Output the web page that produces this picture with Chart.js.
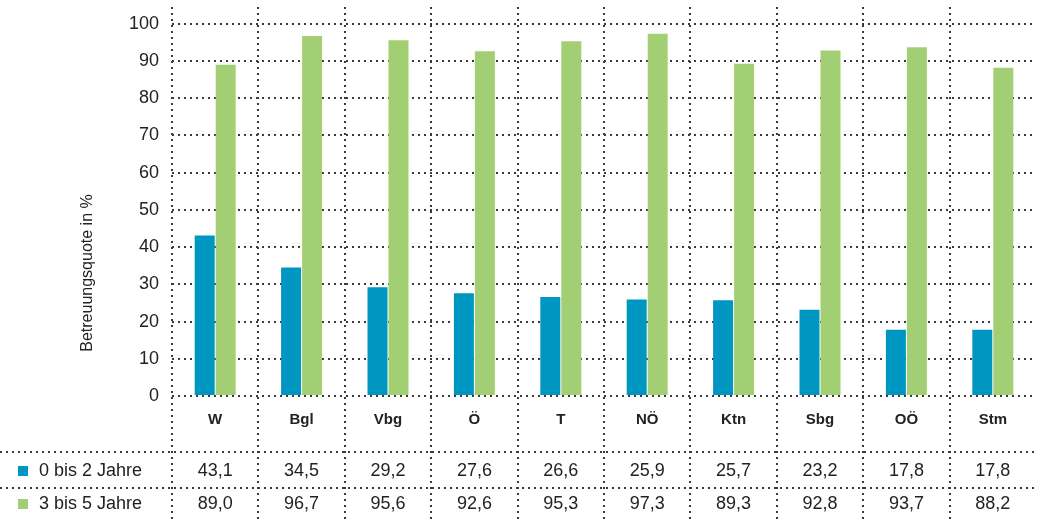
<!DOCTYPE html>
<html>
<head>
<meta charset="utf-8">
<script src="https://cdn.jsdelivr.net/npm/chart.js@4/dist/chart.umd.min.js"></script>
<style>
  html, body { margin: 0; padding: 0; background: #fff; }
  #wrap { width: 1059px; height: 522px; }
</style>
</head>
<body>
<div id="wrap"><canvas id="chart" width="1059" height="522"></canvas></div>
<script>
// data
const categories = ['W', 'Bgl', 'Vbg', 'Ö', 'T', 'NÖ', 'Ktn', 'Sbg', 'OÖ', 'Stm'];
const seriesNames = ['0 bis 2 Jahre', '3 bis 5 Jahre'];
const age0to2 = [43.1, 34.5, 29.2, 27.6, 26.6, 25.9, 25.7, 23.2, 17.8, 17.8];
const age3to5 = [89.0, 96.7, 95.6, 92.6, 95.3, 97.3, 89.3, 92.8, 93.7, 88.2];
const yTitle = 'Betreuungsquote in %';

const colors = ['#0096c2', '#a2cf74'];
const dotColor = '#3a3a3a';
const fontFamily = '"Liberation Sans", Arial, Helvetica, sans-serif';

// number format with comma decimal
function fmt(v) {
    return v.toFixed(1).replace('.', ',');
}

// dotted line helper
function dotted(ctx, x1, y1, x2, y2) {
    ctx.save();
    ctx.strokeStyle = dotColor;
    ctx.lineWidth = 2;
    ctx.setLineDash([2, 4]);
    ctx.beginPath();
    ctx.moveTo(x1, y1);
    ctx.lineTo(x2, y2);
    ctx.stroke();
    ctx.restore();
}

// draws the category boundaries, y title and data table
const tablePlugin = {
    id: 'tablePlugin',
    afterDraw(chart) {
        const ctx = chart.ctx;
        const xs = chart.scales.x;
        const area = chart.chartArea;
        const step = xs.getPixelForValue(1) - xs.getPixelForValue(0);
        const rowLines = [452, 488];
        const rowText = [471, 504];
        const series = [age0to2, age3to5];

        // vertical boundaries
        categories.forEach((c, i) => {
            const x = Math.round(xs.getPixelForValue(i) - step / 2);
            dotted(ctx, x, 7, x, 522);
        });

        // table row lines
        rowLines.forEach(y => dotted(ctx, 0, y, area.right, y));

        ctx.save();
        ctx.fillStyle = '#222';
        ctx.font = '18px ' + fontFamily;
        ctx.textBaseline = 'middle';
        series.forEach((vals, r) => {
            // legend square + name
            ctx.fillStyle = colors[r];
            ctx.fillRect(18, rowText[r] - 5, 10, 10);
            ctx.fillStyle = '#222';
            ctx.textAlign = 'left';
            ctx.fillText(seriesNames[r], 39, rowText[r]);
            ctx.textAlign = 'center';
            vals.forEach((v, i) => {
                ctx.fillText(fmt(v), xs.getPixelForValue(i), rowText[r]);
            });
        });

        // y axis title
        ctx.translate(88, 273);
        ctx.rotate(-Math.PI / 2);
        ctx.font = '16px ' + fontFamily;
        ctx.textAlign = 'center';
        ctx.fillText(yTitle, 0, 0);
        ctx.restore();
    }
};

const ctx = document.getElementById('chart').getContext('2d');
new Chart(ctx, {
    type: 'bar',
    data: {
        labels: categories,
        datasets: [
            { label: seriesNames[0], data: age0to2, backgroundColor: colors[0] },
            { label: seriesNames[1], data: age3to5, backgroundColor: colors[1] }
        ]
    },
    options: {
        responsive: false,
        animation: false,
        devicePixelRatio: 1,
        categoryPercentage: 0.486,
        barPercentage: 0.952,
        layout: { padding: { top: 21, right: 23, left: 0, bottom: 0 } },
        plugins: {
            legend: { display: false },
            tooltip: { enabled: false }
        },
        scales: {
            x: {
                grid: { display: false },
                border: { display: false },
                ticks: {
                    color: '#222',
                    padding: 7,
                    font: { family: fontFamily, size: 15, weight: 'bold' }
                },
                afterFit(scale) { scale.height = 126; }
            },
            y: {
                min: 0,
                max: 100,
                ticks: {
                    stepSize: 10,
                    color: '#222',
                    padding: 13,
                    font: { family: fontFamily, size: 18 }
                },
                grid: { color: dotColor, lineWidth: 2, drawTicks: false },
                border: { display: false, dash: [2, 4] },
                afterFit(scale) { scale.width = 172; }
            }
        }
    },
    plugins: [tablePlugin]
});
</script>
</body>
</html>
